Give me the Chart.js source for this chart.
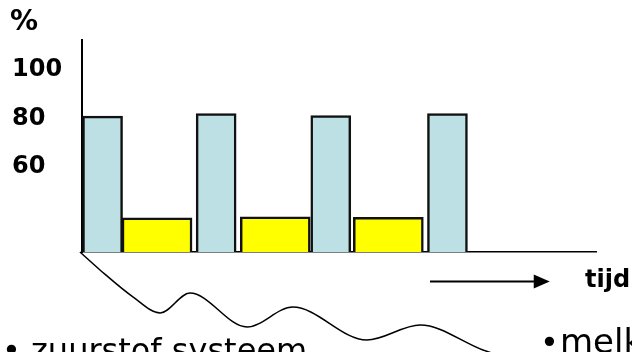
<!DOCTYPE html>
<html>
<head>
<meta charset="utf-8">
<script src="https://cdn.jsdelivr.net/npm/chart.js@4/dist/chart.umd.min.js"></script>
<style>
  html, body { margin: 0; padding: 0; background: #fff; }
  #wrap { width: 632px; height: 352px; position: relative; }
</style>
</head>
<body>
<div id="wrap"><canvas id="energy-chart"></canvas></div>
<script>
// aerobe (blauw) en anaerobe (geel) fases over de tijd
const blueTimes = [4, 26.1, 48.4, 71.1];
const blueLevels = [81, 82.1, 81.2, 82.1];
const yellowTimes = [14.6, 37.6, 59.6];
const yellowLevels = [39.1, 39.5, 39.3];
const yTicks = [60, 80, 100];

// golflijn onder de as
const waveTimes = [-0.4, 3.5, 9.9, 15.2, 21, 32.1, 41, 55.4, 65.8, 78, 84];
const waveLevels = [25, 17.6, 6.5, -0.1, 8.1, -5.9, 2.3, -11.3, -5.1, -15.4, -19.5];

// tijd-pijl
const arrowTimes = [67.7, 91];
const arrowLevel = 12.8;

const FONT = "'DejaVu Sans', Verdana, sans-serif";

function toPoints(xs, ys) {
    return xs.map((x, i) => ({ x: x, y: ys[i] }));
}

// extra tekst en pijl bovenop de grafiek
const extras = {
    id: 'extras',
    afterDraw(chart) {
        const ctx = chart.ctx;
        const x = chart.scales.x;
        const y = chart.scales.y;
        ctx.save();
        ctx.fillStyle = '#000';
        ctx.strokeStyle = '#000';

        ctx.font = 'bold 28px ' + FONT;
        ctx.textBaseline = 'middle';
        ctx.fillText('%', 10, 23);

        // pijl
        const x0 = x.getPixelForValue(arrowTimes[0]);
        const x1 = x.getPixelForValue(arrowTimes[1]);
        const yy = y.getPixelForValue(arrowLevel);
        ctx.lineWidth = 2;
        ctx.beginPath();
        ctx.moveTo(x0, yy);
        ctx.lineTo(x1 - 12, yy);
        ctx.stroke();
        ctx.beginPath();
        ctx.moveTo(x1, yy);
        ctx.lineTo(x1 - 16, yy - 7);
        ctx.lineTo(x1 - 16, yy + 7);
        ctx.closePath();
        ctx.fill();

        ctx.textBaseline = 'alphabetic';
        ctx.font = 'bold 24px ' + FONT;
        ctx.fillText('tijd', 585, 287);

        ctx.font = '32px ' + FONT;
        ctx.fillText('\u2022 zuurstof systeem', 2, 361);
        ctx.fillText('\u2022', 540, 353);
        ctx.font = '34px ' + FONT;
        ctx.fillText('melkzuur systeem', 560, 353);
        ctx.restore();
    }
};

const data = {
    datasets: [{
        type: 'bar',
        label: 'zuurstof',
        data: toPoints(blueTimes, blueLevels),
        backgroundColor: '#BCE0E3',
        borderColor: '#111',
        borderWidth: 2.5,
        borderSkipped: false,
        barThickness: 40,
        grouped: false
    }, {
        type: 'bar',
        label: 'melkzuur',
        data: toPoints(yellowTimes, yellowLevels),
        backgroundColor: '#FFFF00',
        borderColor: '#111',
        borderWidth: 2.5,
        borderSkipped: false,
        barThickness: 70,
        grouped: false
    }, {
        type: 'line',
        label: 'golf',
        data: toPoints(waveTimes, waveLevels),
        borderColor: '#000',
        borderWidth: 1.5,
        pointRadius: 0,
        fill: false,
        cubicInterpolationMode: 'monotone',
        clip: false
    }]
};

const config = {
    type: 'bar',
    data: data,
    options: {
        responsive: true,
        maintainAspectRatio: false,
        animation: false,
        layout: { padding: { left: 12, top: 40, right: 36, bottom: 100 } },
        plugins: {
            legend: { display: false },
            tooltip: { enabled: false }
        },
        scales: {
            x: {
                type: 'linear',
                min: 0,
                max: 100,
                offset: false,
                grid: { display: false, drawTicks: false },
                border: { display: true, color: '#000', width: 1.5 },
                ticks: { display: false },
                afterFit: (scale) => { scale.height = 0; }
            },
            y: {
                min: 25,
                max: 112.4,
                grid: { display: false, drawTicks: false },
                border: { display: true, color: '#000', width: 2 },
                afterBuildTicks: (scale) => {
                    scale.ticks = yTicks.map(v => ({ value: v }));
                },
                afterFit: (scale) => { scale.width = 70; },
                ticks: {
                    autoSkip: false,
                    crossAlign: 'far',
                    color: '#000',
                    font: { family: FONT, size: 24, weight: 'bold' }
                }
            }
        }
    },
    plugins: [extras]
};

const energyChart = new Chart(document.getElementById('energy-chart'), config);
</script>
</body>
</html>
